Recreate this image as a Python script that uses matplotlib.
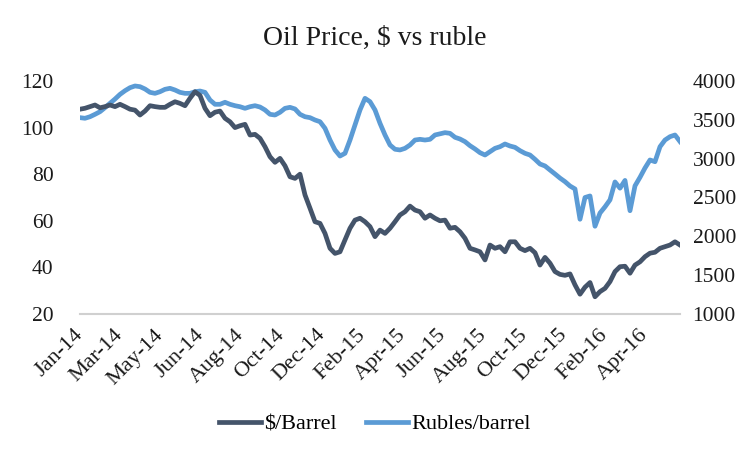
import numpy as np
import matplotlib
matplotlib.use("Agg")
import matplotlib.pyplot as plt
from matplotlib.transforms import ScaledTranslation

# values, one sample every ~5 px (about a week)
usd = [107.9, 108.3, 109.0, 109.7, 108.5, 109.0, 109.7, 109.0, 110.0, 109.0,
       107.9, 107.5, 105.4, 107.1, 109.4, 109.0, 108.7, 108.7, 110.0, 111.1,
       110.4, 109.4, 112.6, 115.4, 113.8, 108.3, 105.1, 106.6, 107.1, 104.0,
       102.5, 100.0, 100.8, 101.4, 96.8, 97.1, 95.4, 91.8, 87.5, 85.1,
       86.8, 83.6, 78.9, 78.2, 80.0, 71.1, 65.4, 59.6, 58.9, 54.6,
       48.2, 46.0, 46.7, 51.8, 56.8, 60.3, 61.1, 59.6, 57.5, 53.2,
       56.0, 54.6, 56.8, 59.6, 62.5, 63.9, 66.3, 64.6, 63.9, 61.1,
       62.5, 61.1, 60.0, 60.3, 56.8, 57.2, 55.3, 52.5, 48.2, 47.5,
       46.7, 43.2, 49.6, 48.2, 48.9, 46.7, 51.0, 51.0, 48.2, 47.2,
       48.2, 46.3, 41.0, 44.3, 41.8, 38.2, 37.0, 36.6, 37.2, 32.5,
       28.5, 31.5, 33.5, 27.4, 29.6, 31.0, 33.9, 38.2, 40.3, 40.5,
       37.5, 41.0, 42.4, 44.6, 46.1, 46.5, 48.2, 48.9, 49.6, 51.0,
       49.6]

rub = [3528, 3520, 3540, 3571, 3605, 3657, 3713, 3768, 3828, 3875,
       3914, 3936, 3927, 3897, 3854, 3841, 3862, 3893, 3906, 3884,
       3854, 3841, 3841, 3862, 3871, 3854, 3755, 3700, 3700, 3726,
       3700, 3682, 3669, 3648, 3669, 3682, 3665, 3627, 3571, 3562,
       3597, 3648, 3661, 3640, 3571, 3540, 3528, 3498, 3476, 3391,
       3240, 3112, 3034, 3069, 3240, 3434, 3627, 3777, 3734, 3627,
       3455, 3305, 3176, 3121, 3112, 3133, 3176, 3240, 3249, 3240,
       3249, 3305, 3320, 3335, 3326, 3275, 3253, 3219, 3167, 3125,
       3077, 3047, 3090, 3133, 3154, 3189, 3163, 3146, 3103, 3069,
       3047, 2992, 2931, 2906, 2854, 2803, 2750, 2704, 2648, 2610,
       2220, 2500, 2520, 2130, 2300, 2380, 2470, 2700, 2620, 2720,
       2330, 2650, 2760, 2880, 2983, 2961, 3154, 3240, 3283, 3305,
       3220]

tick_labels = ["Jan-14", "Mar-14", "May-14", "Jun-14", "Aug-14", "Oct-14",
               "Dec-14", "Feb-15", "Apr-15", "Jun-15", "Aug-15", "Oct-15",
               "Dec-15", "Feb-16", "Apr-16"]
tick_step = 8.08  # samples between labels

dark = "#44546A"
light = "#5B9BD5"
txt = "#1A1A1A"

plt.rcParams["font.family"] = ["Liberation Serif", "DejaVu Serif"]

fig = plt.figure(figsize=(7.5, 4.55), dpi=100)
ax = fig.add_axes([80 / 750, 1 - 314 / 455, 600 / 750, 233 / 455])
ax2 = ax.twinx()

x = np.arange(len(usd))
l1, = ax.plot(x, usd, color=dark, lw=3.4, solid_joinstyle="round")
l2, = ax2.plot(x, rub, color=light, lw=3.4, solid_joinstyle="round")
ax.set_zorder(ax2.get_zorder() + 1)
ax.patch.set_visible(False)

ax.set_xlim(0, len(usd) - 1)
ax.set_ylim(20, 120)
ax2.set_ylim(1000, 4000)
ax.set_yticks(range(20, 121, 20))
ax2.set_yticks(range(1000, 4001, 500))

ax.set_xticks(np.arange(len(tick_labels)) * tick_step)
ax.set_xticklabels(tick_labels, rotation=45, ha="right", va="center",
                   rotation_mode="anchor", fontsize=16, color=txt)
shift = ScaledTranslation(4 / 100, 0, fig.dpi_scale_trans)
for lab in ax.get_xticklabels():
    lab.set_transform(lab.get_transform() + shift)
ax.tick_params(axis="x", length=0, pad=13)
ax.tick_params(axis="y", length=0, pad=19, labelsize=15.5, colors=txt)
ax2.tick_params(axis="y", length=0, pad=9, labelsize=15.5, colors=txt)
for a in (ax, ax2):
    for s in a.spines.values():
        s.set_visible(False)
ax.spines["bottom"].set_visible(True)
ax.spines["bottom"].set_color("#D0D0D0")
ax.spines["bottom"].set_linewidth(1.5)

fig.text(0.5, 1 - 38 / 455, "Oil Price, $ vs ruble", ha="center", va="center",
         fontsize=20, color=txt)

fig.legend([l1, l2], ["$/Barrel", "Rubles/barrel"], loc="center",
           bbox_to_anchor=(0.5, 1 - 424 / 455), ncol=2, frameon=False,
           fontsize=16, handlelength=1.9, handletextpad=0.15, columnspacing=1.3)

fig.savefig("out.png", dpi=100)
